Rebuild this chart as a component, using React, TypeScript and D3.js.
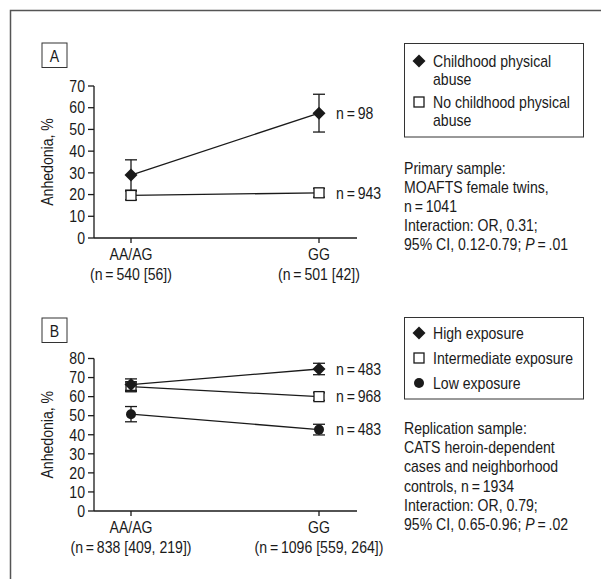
import React from 'react';
import * as d3 from 'd3';

const genotypes = ['AA/AG', 'GG'];

// Panel A: primary sample
const panelANLabels = ['(n\u2009=\u2009540 [56])', '(n\u2009=\u2009501 [42])'];
const abuseMean = [29, 57.5];
const abuseErr = [7, 8.7];
const noAbuseMean = [19.6, 20.8];
const noAbuseErr = [2, 2];
const panelATicks = [0, 10, 20, 30, 40, 50, 60, 70];
const panelAEndN = ['n\u2009=\u200998', 'n\u2009=\u2009943'];
const panelALegend = [
  ['Childhood physical', 'abuse'],
  ['No childhood physical', 'abuse'],
];
const panelANote = [
  'Primary sample:',
  'MOAFTS female twins,',
  'n\u2009=\u20091041',
  'Interaction: OR, 0.31;',
  '95% CI, 0.12-0.79; ',
];

// Panel B: replication sample
const panelBNLabels = ['(n\u2009=\u2009838 [409, 219])', '(n\u2009=\u20091096 [559, 264])'];
const highMean = [66.3, 74.5];
const highErr = [3, 3];
const interMean = [65.2, 60];
const interErr = [2.5, 2];
const lowMean = [50.8, 42.7];
const lowErr = [4, 2.8];
const panelBTicks = [0, 10, 20, 30, 40, 50, 60, 70, 80];
const panelBEndN = ['n\u2009=\u2009483', 'n\u2009=\u2009968', 'n\u2009=\u2009483'];
const panelBLegend = ['High exposure', 'Intermediate exposure', 'Low exposure'];
const panelBNote = [
  'Replication sample:',
  'CATS heroin-dependent',
  'cases and neighborhood',
  'controls, n\u2009=\u20091934',
  'Interaction: OR, 0.79;',
  '95% CI, 0.65-0.96; ',
];

// narrow look: Liberation Sans squeezed horizontally
const FONT = "'Liberation Sans', Arial, sans-serif";
const SX = 0.88;
const INK = '#1a1a1a';

const T = ({ x, y, anchor = 'start', size = 16, rotate = 0, dy, children }: any) => (
  <text
    transform={`translate(${x},${y}) rotate(${rotate}) scale(${SX},1)`}
    textAnchor={anchor}
    fontSize={size}
    fontFamily={FONT}
    fill={INK}
    dy={dy}
  >
    {children}
  </text>
);

type Shape = 'diamond' | 'square' | 'circle';

const Marker = ({ shape, x, y }: { shape: Shape; x: number; y: number }) => {
  if (shape === 'diamond') {
    const r = 6.5;
    return <path d={`M${x},${y - r}L${x + r},${y}L${x},${y + r}L${x - r},${y}Z`} fill={INK} />;
  }
  if (shape === 'square') {
    return <rect x={x - 5} y={y - 5} width={10} height={10} fill="#fff" stroke={INK} strokeWidth={1.3} />;
  }
  return <circle cx={x} cy={y} r={5} fill={INK} />;
};

const Series = ({ mean, err, shape, x, y }: any) => {
  const line = d3.line<number>().x((_, i) => x(genotypes[i])!).y(d => y(d));
  return (
    <g>
      <path d={line(mean)!} fill="none" stroke={INK} strokeWidth={1.3} />
      {mean.map((m: number, i: number) => {
        const cx = x(genotypes[i])!;
        const top = y(m + err[i]);
        const bot = y(m - err[i]);
        return (
          <g key={i}>
            <line x1={cx} x2={cx} y1={top} y2={bot} stroke={INK} strokeWidth={1.3} />
            <line x1={cx - 6} x2={cx + 6} y1={top} y2={top} stroke={INK} strokeWidth={1.3} />
            <line x1={cx - 6} x2={cx + 6} y1={bot} y2={bot} stroke={INK} strokeWidth={1.3} />
          </g>
        );
      })}
      {mean.map((m: number, i: number) => (
        <Marker key={'m' + i} shape={shape} x={x(genotypes[i])!} y={y(m)} />
      ))}
    </g>
  );
};

const Axes = ({ x, y, ticks, nLabels, yTop, y0 }: any) => (
  <g>
    <line x1={94} x2={94} y1={yTop} y2={y0} stroke={INK} strokeWidth={1.3} />
    <line x1={94} x2={357} y1={y0} y2={y0} stroke={INK} strokeWidth={1.3} />
    {ticks.map((t: number) => (
      <g key={t}>
        <line x1={88} x2={94} y1={y(t)} y2={y(t)} stroke={INK} strokeWidth={1.3} />
        <T x={85} y={y(t)} dy="0.36em" anchor="end">{t}</T>
      </g>
    ))}
    {genotypes.map((g, i) => (
      <g key={g}>
        <line x1={x(g)} x2={x(g)} y1={y0} y2={y0 + 5} stroke={INK} strokeWidth={1.3} />
        <T x={x(g)} y={y0 + 22} anchor="middle">{g}</T>
        <T x={x(g)} y={y0 + 42} anchor="middle">{nLabels[i]}</T>
      </g>
    ))}
    <T x={53} y={(yTop + y0) / 2} rotate={-90} anchor="middle">Anhedonia, %</T>
  </g>
);

const PanelTag = ({ label, top }: { label: string; top: number }) => (
  <g>
    <rect x={42} y={top} width={25} height={24.5} fill="#fff" stroke="#333" strokeWidth={1} />
    <T x={54.5} y={top + 18.5} anchor="middle">{label}</T>
  </g>
);

const App = () => {
  const x = d3.scalePoint<string>().domain(genotypes).range([131, 319]);
  const yA = d3.scaleLinear().domain([0, 70]).range([238, 86]);
  const yB = d3.scaleLinear().domain([0, 80]).range([511, 358.5]);

  return (
    <svg width={601} height={579} style={{ position: 'absolute', left: 0, top: 0 }}>
      <rect width={601} height={579} fill="#fff" />
      <path d="M10.5,579V10.5H601" fill="none" stroke="#555" strokeWidth={1.5} />

      {/* Panel A */}
      <PanelTag label="A" top={43} />
      <Axes x={x} y={yA} ticks={panelATicks} nLabels={panelANLabels} yTop={86} y0={238} />
      <Series mean={noAbuseMean} err={noAbuseErr} shape="square" x={x} y={yA} />
      <Series mean={abuseMean} err={abuseErr} shape="diamond" x={x} y={yA} />
      <T x={336} y={yA(abuseMean[1])} dy="0.36em">{panelAEndN[0]}</T>
      <T x={336} y={yA(noAbuseMean[1])} dy="0.36em">{panelAEndN[1]}</T>
      <rect x={404.5} y={43.5} width={179} height={93.5} fill="none" stroke="#333" strokeWidth={1} />
      <Marker shape="diamond" x={419} y={61} />
      <Marker shape="square" x={419} y={102} />
      {panelALegend.map((lines, i) =>
        lines.map((t, j) => (
          <T key={i + '-' + j} x={433} y={66.5 + i * 41 + j * 18.5}>{t}</T>
        ))
      )}
      {panelANote.map((t, i) => (
        <T key={i} x={404} y={174 + i * 19}>
          {t}
          {i === panelANote.length - 1 && (
            <>
              <tspan fontStyle="italic">P</tspan>
              {'\u2009=\u2009.01'}
            </>
          )}
        </T>
      ))}

      {/* Panel B */}
      <PanelTag label="B" top={318} />
      <Axes x={x} y={yB} ticks={panelBTicks} nLabels={panelBNLabels} yTop={358.5} y0={511} />
      <Series mean={lowMean} err={lowErr} shape="circle" x={x} y={yB} />
      <Series mean={interMean} err={interErr} shape="square" x={x} y={yB} />
      <Series mean={highMean} err={highErr} shape="diamond" x={x} y={yB} />
      <T x={336} y={yB(highMean[1])} dy="0.36em">{panelBEndN[0]}</T>
      <T x={336} y={yB(interMean[1])} dy="0.36em">{panelBEndN[1]}</T>
      <T x={336} y={yB(lowMean[1])} dy="0.36em">{panelBEndN[2]}</T>
      <rect x={404.5} y={317.5} width={179} height={81.5} fill="none" stroke="#333" strokeWidth={1} />
      {(['diamond', 'square', 'circle'] as Shape[]).map((s, i) => (
        <Marker key={s} shape={s} x={419} y={333 + i * 25} />
      ))}
      {panelBLegend.map((t, i) => (
        <T key={t} x={433} y={338.5 + i * 25}>{t}</T>
      ))}
      {panelBNote.map((t, i) => (
        <T key={i} x={404} y={434 + i * 19.2}>
          {t}
          {i === panelBNote.length - 1 && (
            <>
              <tspan fontStyle="italic">P</tspan>
              {'\u2009=\u2009.02'}
            </>
          )}
        </T>
      ))}
    </svg>
  );
};

export default App;
